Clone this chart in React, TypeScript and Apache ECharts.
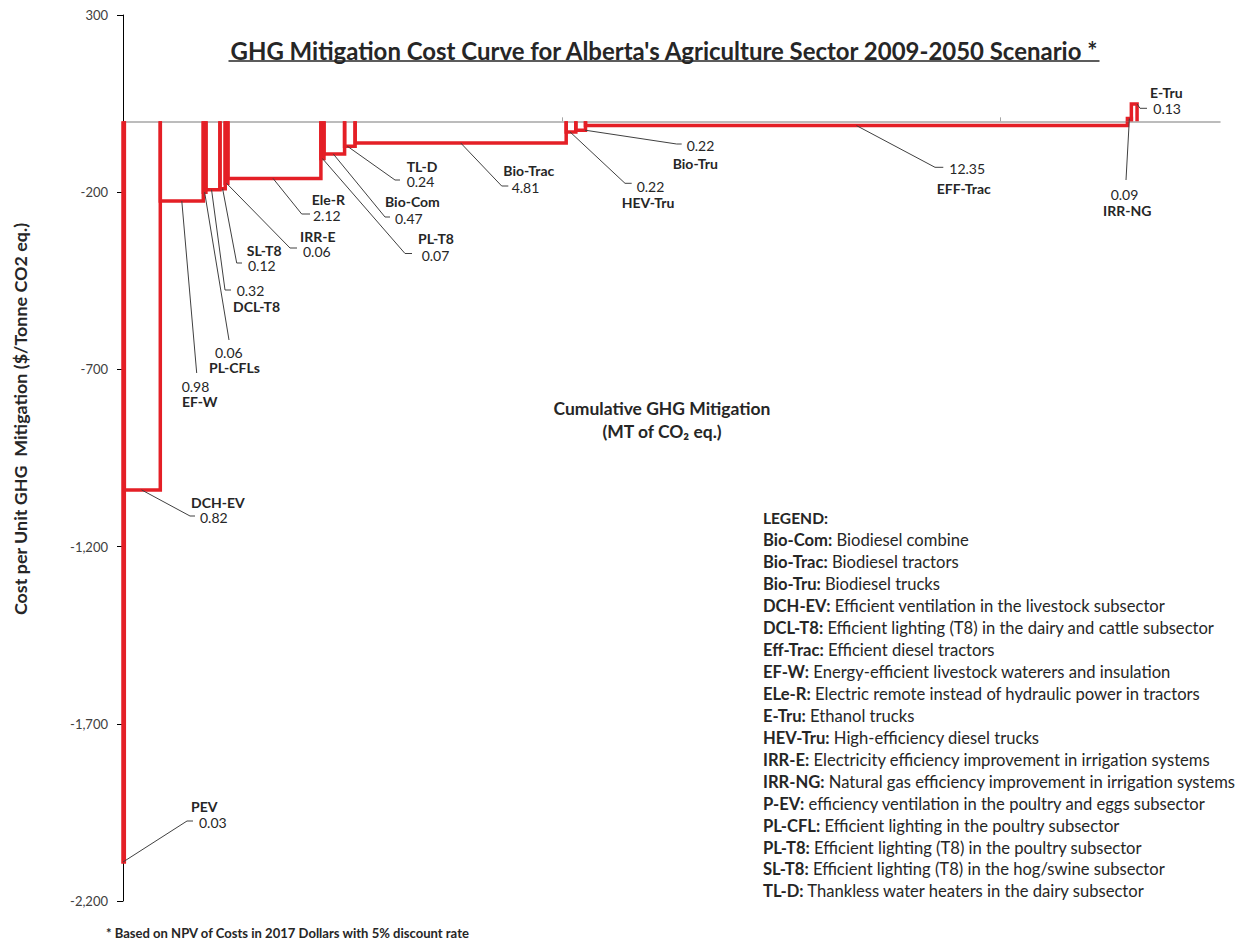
import React, { useEffect, useRef } from 'react';
import * as echarts from 'echarts';

// ---------- DATA ----------
const measures = ['PEV', 'DCH-EV', 'EF-W', 'PL-CFLs', 'DCL-T8', 'SL-T8', 'IRR-E', 'Ele-R', 'PL-T8', 'Bio-Com', 'TL-D', 'Bio-Trac', 'HEV-Tru', 'Bio-Tru', 'EFF-Trac', 'IRR-NG', 'E-Tru'];
// cumulative GHG mitigation contributed by each measure (MT CO2 eq.)
const mitigation = [0.03, 0.82, 0.98, 0.06, 0.32, 0.12, 0.06, 2.12, 0.07, 0.47, 0.24, 4.81, 0.22, 0.22, 12.35, 0.09, 0.13];
// cost per unit GHG mitigation ($/tonne CO2 eq.)
const costs = [-2090, -1040, -225, -200, -193, -190, -175, -161, -105, -92, -70, -61, -30, -25, -12, 8, 49];
const yTicks = [-2200, -1700, -1200, -700, -200, 300];
const xTicks = [10, 20];

const legendCodes = ['Bio-Com:', 'Bio-Trac:', 'Bio-Tru:', 'DCH-EV:', 'DCL-T8:', 'Eff-Trac:', 'EF-W:', 'ELe-R:', 'E-Tru:', 'HEV-Tru:', 'IRR-E:', 'IRR-NG:', 'P-EV:', 'PL-CFL:', 'PL-T8:', 'SL-T8:', 'TL-D:'];
const legendDescs = [
  'Biodiesel combine',
  'Biodiesel tractors',
  'Biodiesel trucks',
  'Efficient ventilation in the livestock subsector',
  'Efficient lighting (T8) in the dairy and cattle subsector',
  'Efficient diesel tractors',
  'Energy-efficient livestock waterers and insulation',
  'Electric remote instead of hydraulic power in tractors',
  'Ethanol trucks',
  'High-efficiency diesel trucks',
  'Electricity efficiency improvement in irrigation systems',
  'Natural gas efficiency improvement in irrigation systems',
  'efficiency ventilation in the poultry and eggs subsector',
  'Efficient lighting in the poultry subsector',
  'Efficient lighting (T8) in the poultry subsector',
  'Efficient lighting (T8) in the hog/swine subsector',
  'Thankless water heaters in the dairy subsector',
];

const TITLE = "GHG Mitigation Cost Curve for Alberta's Agriculture Sector 2009-2050 Scenario *";
const Y_NAME = 'Cost per Unit GHG  Mitigation ($/Tonne CO2 eq.)';
const X_NAME_1 = 'Cumulative GHG Mitigation';
const X_NAME_2 = '(MT of CO\u2082 eq.)';
const FOOTNOTE = '* Based on NPV of Costs in 2017 Dollars with 5% discount rate';

// ---------- LABEL LAYOUT (annotation positions, px) ----------
// f: anchor fraction along the bar; (ex,ey): elbow; sx: stub end; (nx,ny): name; (vx,vy): value
const labelLayout = [
  { f: 0, ex: 187, ey: 821, sx: 193, nx: 191, ny: 806, vx: 199, vy: 822 },
  { f: 0.48, ex: 190, ey: 516, sx: 195, nx: 191, ny: 502.3, vx: 200, vy: 517.7 },
  { f: 0.5, ex: 196.7, ey: 373, sx: null, nx: 182, ny: 401.7, vx: 181.7, vy: 386.7 },
  { f: 0.5, ex: 229, ey: 340, sx: null, nx: 209, ny: 367, vx: 215, vy: 352.3 },
  { f: 0.4, ex: 225, ey: 290, sx: 231, nx: 233, ny: 306.2, vx: 236.7, vy: 290.8 },
  { f: 0.5, ex: 236.7, ey: 263, sx: 242, nx: 246.7, ny: 250.2, vx: 248, vy: 265.6 },
  { f: 0.5, ex: 290, ey: 248, sx: 297, nx: 300, ny: 236, vx: 303, vy: 251 },
  { f: 0.485, ex: 301.7, ey: 214, sx: 310, nx: 311.7, ny: 199.5, vx: 313, vy: 215 },
  { f: 0.5, ex: 405, ey: 253.5, sx: 412, nx: 418, ny: 238, vx: 421.7, vy: 255 },
  { f: 0.45, ex: 385, ey: 217, sx: 390, nx: 385, ny: 201.7, vx: 395, vy: 218.3 },
  { f: 0.25, ex: 395, ey: 180, sx: 400, nx: 406.7, ny: 166.6, vx: 406.7, vy: 181.7 },
  { f: 0.5, ex: 501.7, ey: 186, sx: 508.3, nx: 503.3, ny: 170.7, vx: 511.7, vy: 187.3 },
  { f: 0.4, ex: 625, ey: 183.3, sx: 631.7, nx: 621.7, ny: 202.7, vx: 636.7, vy: 186 },
  { f: 0.95, ex: 676.7, ey: 144, sx: 681.7, nx: 672.7, ny: 163.3, vx: 686.7, vy: 145.7 },
  { f: 0.5, ex: 935, ey: 167.3, sx: 943.3, nx: 936.7, ny: 188.3, vx: 949.3, vy: 168.3 },
  { f: 0.5, ex: 1126, ey: 180, sx: null, nx: 1103, ny: 210, vx: 1110.7, vy: 194 },
  { f: 1, ex: 1140, ey: 108.3, sx: 1147, nx: 1150, ny: 92.3, vx: 1153.3, vy: 108.3 },
];

const RED = '#e41f26';
const TEXT = '#262626';
const FONT = 'Lato';

function fitSize(text: string, weight: string, target: number, base: number) {
  try {
    const c = document.createElement('canvas').getContext('2d');
    if (!c) return base;
    c.font = `${weight} ${base}px ${FONT}`;
    const w = c.measureText(text).width;
    if (!w) return base;
    return base * target / w;
  } catch (e) {
    return base;
  }
}

export default function App() {
  const ref = useRef<HTMLDivElement>(null);

  useEffect(() => {
    if (!ref.current) return;
    const chart = echarts.init(ref.current, undefined, { renderer: 'svg' });

    const starts: number[] = [];
    let acc = 0;
    mitigation.forEach((m) => { starts.push(acc); acc += m; });
    const data = measures.map((_, i) => [starts[i], starts[i] + mitigation[i], costs[i]]);

    const titleSize = fitSize(TITLE, 'bold', 870, 21);
    const yNameSize = fitSize(Y_NAME, 'bold', 393, 15);
    const xNameSize = fitSize(X_NAME_1, 'bold', 217, 15);
    const footSize = fitSize(FOOTNOTE, 'bold', 364, 14);
    const legendSize = 16.6;
    const labelSize = 14;

    const legendGraphics: any[] = [
      {
        type: 'text', x: 763, y: 518.3,
        style: { text: 'LEGEND:', fontFamily: FONT, fontWeight: 'bold', fontSize: 15.6, fill: TEXT, verticalAlign: 'middle' },
      },
      ...legendCodes.map((code, i) => ({
        type: 'text', x: 763, y: 540.2 + i * 21.95,
        style: {
          text: `{b|${code}} ${legendDescs[i]}`,
          fontFamily: FONT, fontSize: legendSize, fill: TEXT, verticalAlign: 'middle',
          rich: { b: { fontFamily: FONT, fontSize: legendSize, fontWeight: 'bold', fill: TEXT } },
        },
      })),
    ];

    const option: any = {
      animation: false,
      backgroundColor: '#ffffff',
      grid: { left: 123, right: 23, top: 15, bottom: 41, containLabel: false },
      xAxis: {
        type: 'value', min: 0, max: 25,
        axisLine: { show: true, onZero: true, lineStyle: { color: '#a6a6a6', width: 1.5 } },
        axisTick: { show: true, inside: true, length: 4, customValues: xTicks, lineStyle: { color: '#a6a6a6' } },
        axisLabel: { show: false },
        splitLine: { show: false },
      },
      yAxis: {
        type: 'value', min: -2200, max: 300,
        axisLine: { show: true, lineStyle: { color: '#000', width: 1 } },
        axisTick: { show: true, length: 6, customValues: yTicks, lineStyle: { color: '#000' } },
        axisLabel: {
          show: true, customValues: yTicks, margin: 15, color: '#404040', fontSize: 13, fontFamily: FONT,
          formatter: (v: number) => v.toLocaleString('en-US'),
        },
        splitLine: { show: false },
      },
      series: [
        {
          type: 'custom',
          clip: false,
          encode: { x: [0, 1], y: 2 },
          data,
          renderItem: (params: any, api: any) => {
            const i = params.dataIndex;
            const x0 = api.value(0);
            const x1 = api.value(1);
            const v = api.value(2);
            const p0 = api.coord([x0, 0]);
            const p1 = api.coord([x0, v]);
            const p2 = api.coord([x1, v]);
            const p3 = api.coord([x1, 0]);
            const L = labelLayout[i];
            const a = api.coord([x0 + L.f * (x1 - x0), v]);
            const leader: number[][] = [a, [L.ex, L.ey]];
            if (L.sx !== null) leader.push([L.sx, L.ey]);
            return {
              type: 'group',
              children: [
                {
                  type: 'polyline',
                  shape: { points: [p0, p1, p2, p3] },
                  style: { stroke: RED, lineWidth: 3.5, fill: 'none', lineJoin: 'miter' },
                  z2: 2,
                },
                {
                  type: 'polyline',
                  shape: { points: leader },
                  style: { stroke: '#404040', lineWidth: 1, fill: 'none' },
                  z2: 3,
                },
                {
                  type: 'text',
                  x: L.nx, y: L.ny,
                  style: { text: measures[i], fontFamily: FONT, fontWeight: 'bold', fontSize: labelSize, lineHeight: 14, fill: TEXT, verticalAlign: 'middle', align: 'left' },
                  z2: 4,
                },
                {
                  type: 'text',
                  x: L.vx, y: L.vy,
                  style: { text: mitigation[i].toFixed(2), fontFamily: FONT, fontSize: labelSize, lineHeight: 14, fill: TEXT, verticalAlign: 'middle', align: 'left' },
                  z2: 4,
                },
              ],
            };
          },
        },
      ],
      graphic: [
        {
          type: 'text', x: 664, y: 50,
          style: { text: TITLE, fontFamily: FONT, fontWeight: 'bold', fontSize: titleSize, fill: TEXT, align: 'center', verticalAlign: 'middle' },
        },
        {
          type: 'line',
          shape: { x1: 228.5, y1: 61, x2: 1099.5, y2: 61 },
          style: { stroke: TEXT, lineWidth: 1.3 },
        },
        {
          type: 'text', x: 20, y: 419, rotation: Math.PI / 2,
          style: { text: Y_NAME, fontFamily: FONT, fontWeight: 'bold', fontSize: yNameSize, fill: TEXT, align: 'center', verticalAlign: 'middle' },
        },
        {
          type: 'text', x: 662, y: 408,
          style: { text: X_NAME_1, fontFamily: FONT, fontWeight: 'bold', fontSize: xNameSize, fill: TEXT, align: 'center', verticalAlign: 'middle' },
        },
        {
          type: 'text', x: 662, y: 431,
          style: { text: X_NAME_2, fontFamily: FONT, fontWeight: 'bold', fontSize: xNameSize, fill: TEXT, align: 'center', verticalAlign: 'middle' },
        },
        {
          type: 'text', x: 106, y: 933,
          style: { text: FOOTNOTE, fontFamily: FONT, fontWeight: 'bold', fontSize: footSize, fill: TEXT, align: 'left', verticalAlign: 'middle' },
        },
        ...legendGraphics,
      ],
    };

    chart.setOption(option);
    return () => chart.dispose();
  }, []);

  return (
    <div
      ref={ref}
      style={{ position: 'absolute', left: 0, top: 0, width: 1243, height: 942, background: '#fff' }}
    />
  );
}
